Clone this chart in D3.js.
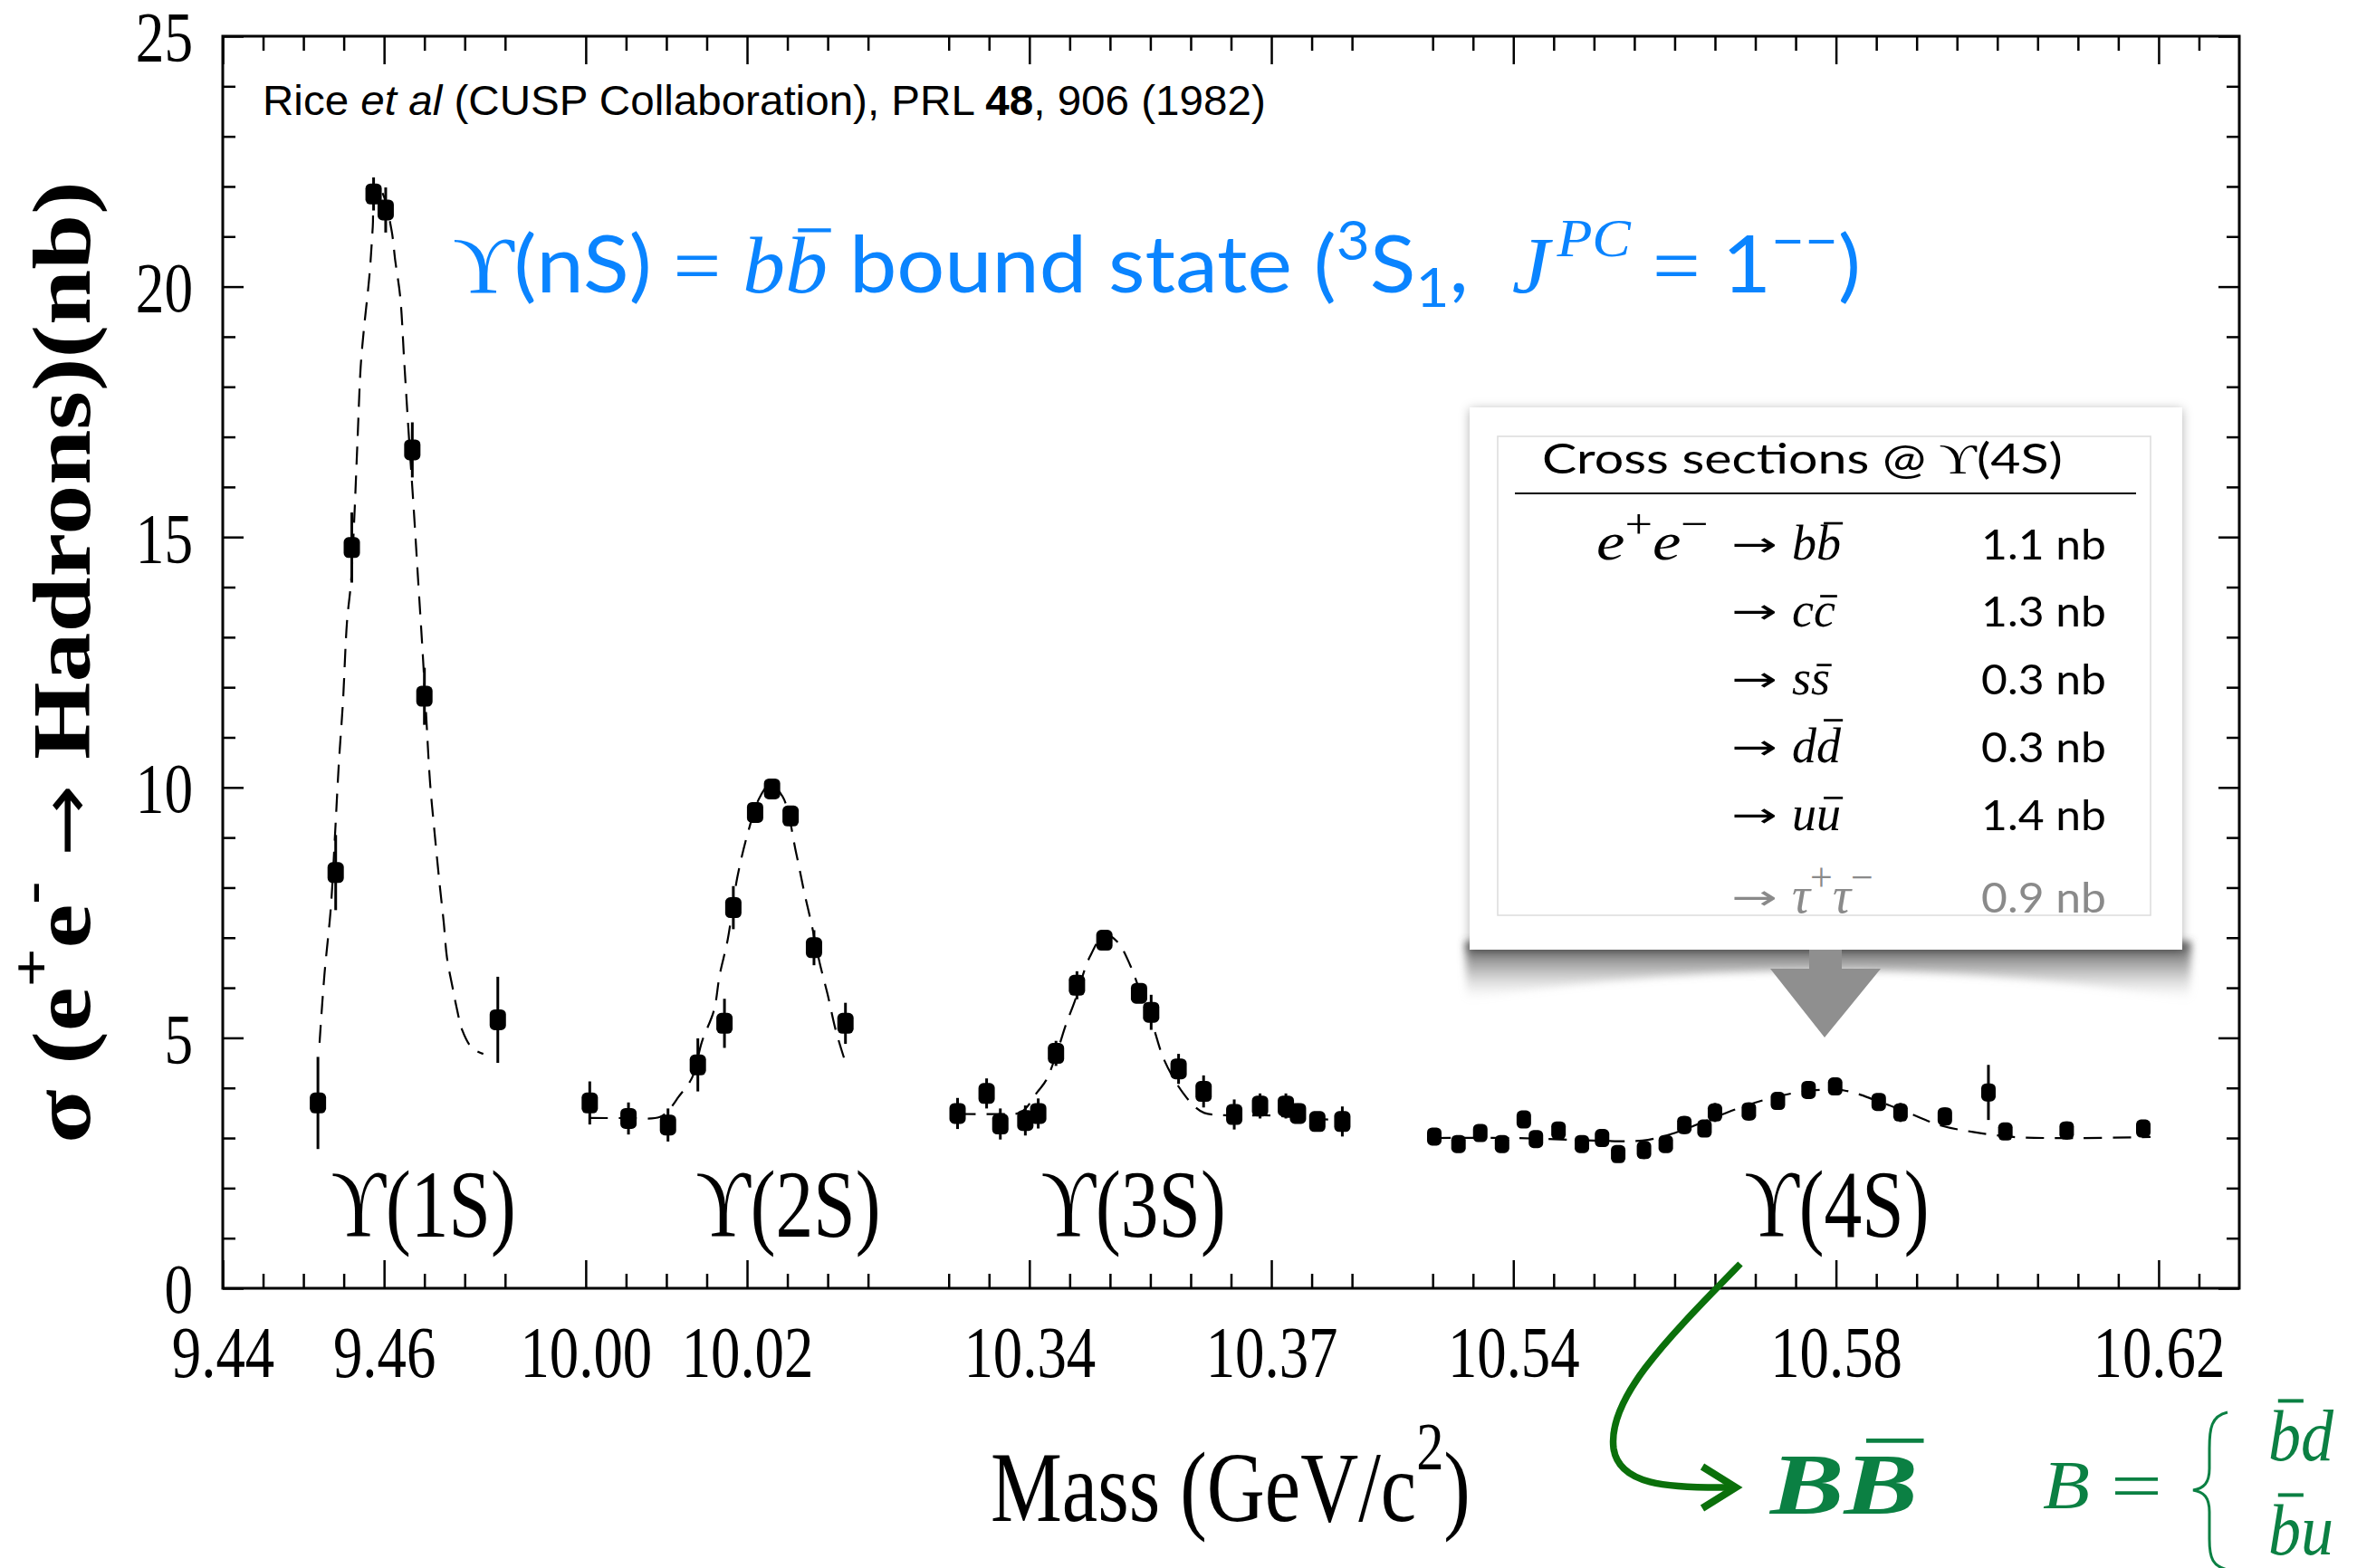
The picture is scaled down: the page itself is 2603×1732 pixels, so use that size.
<!DOCTYPE html>
<html>
<head>
<meta charset="utf-8">
<script src="https://cdn.jsdelivr.net/npm/d3@7"></script>
<style>
  body { margin: 0; background: #fff; }
  text { white-space: pre; }
</style>
</head>
<body>
<svg id="fig" width="2603" height="1732"></svg>
<script>
// ---- axis layout (broken mass axis, GeV) ----
const segments = [[9.44, 9.48], [9.995, 10.04], [10.325, 10.385], [10.525, 10.63]];
const majorTicks = [9.44, 9.46, 10.00, 10.02, 10.34, 10.37, 10.54, 10.58, 10.62];
const tickLabels = ["9.44", "9.46", "10.00", "10.02", "10.34", "10.37", "10.54", "10.58", "10.62"];
const yMajor = [0, 5, 10, 15, 20, 25];
const yMinor = d3.range(0, 26);

// ---- data : mass (GeV), sigma (nb), error (nb) ----
const mass1S  = [9.4518, 9.4540, 9.4560, 9.4587, 9.4602, 9.4635, 9.4650, 9.4741];
const sigma1S = [3.70, 8.30, 14.79, 21.85, 21.53, 16.74, 11.82, 5.36];
const err1S   = [0.92, 0.75, 0.70, 0.33, 0.45, 0.55, 0.57, 0.86];

const mass2S  = [10.0005, 10.0053, 10.0102, 10.0139, 10.0172, 10.0183, 10.0210, 10.0231, 10.0254, 10.0283, 10.0322];
const sigma2S = [3.70, 3.39, 3.26, 4.46, 5.29, 7.60, 9.50, 9.97, 9.43, 6.80, 5.29];
const err2S   = [0.43, 0.32, 0.33, 0.53, 0.49, 0.43, 0.20, 0.20, 0.20, 0.35, 0.41];

const mass3S  = [10.3311, 10.3347, 10.3364, 10.3395, 10.3411, 10.3433, 10.3459, 10.3493, 10.3536, 10.3551,
                 10.3585, 10.3616, 10.3654, 10.3686, 10.3718, 10.3733, 10.3757, 10.3788];
const sigma3S = [3.49, 3.89, 3.28, 3.35, 3.49, 4.69, 6.05, 6.95, 5.89, 5.51, 4.38, 3.93, 3.47, 3.64, 3.64, 3.49, 3.33, 3.33];
const err3S   = [0.31, 0.30, 0.31, 0.30, 0.30, 0.25, 0.28, 0.12, 0.12, 0.35, 0.30, 0.32, 0.30, 0.25, 0.25, 0.20, 0.12, 0.30];

const mass4S  = [10.5302, 10.5332, 10.5359, 10.5386, 10.5413, 10.5428, 10.5456, 10.5485, 10.5510, 10.5530,
                 10.5562, 10.5589, 10.5612, 10.5637, 10.5650, 10.5692, 10.5728, 10.5766, 10.5799, 10.5853,
                 10.5880, 10.5935, 10.5989, 10.6010, 10.6086, 10.6181];
const sigma4S = [3.03, 2.88, 3.10, 2.88, 3.37, 2.98, 3.15, 2.88, 3.00, 2.68, 2.76, 2.88, 3.26, 3.19, 3.51,
                 3.53, 3.74, 3.96, 4.03, 3.72, 3.51, 3.43, 3.91, 3.13, 3.15, 3.19];
const err4S   = [0.10, 0.10, 0.10, 0.10, 0.12, 0.10, 0.10, 0.10, 0.10, 0.15, 0.18, 0.12, 0.18, 0.15, 0.19,
                 0.18, 0.17, 0.10, 0.10, 0.12, 0.19, 0.18, 0.55, 0.15, 0.18, 0.10];

// fitted curves (dashed)
const fit1S = [[9.4520,4.9],[9.4526,6.25],[9.4534,7.6],[9.4539,9.0],[9.4544,10.5],[9.4549,11.7],[9.4554,13.3],
  [9.4559,14.1],[9.4563,15.35],[9.4567,16.9],[9.4571,18.4],[9.4575,19.15],[9.4582,20.25],[9.4586,21.2],
  [9.4589,22.0],[9.4597,21.9],[9.4609,21.15],[9.4614,20.5],[9.4620,19.8],[9.4625,18.5],[9.4630,17.2],
  [9.4637,15.5],[9.4642,14.2],[9.4648,12.65],[9.4652,11.5],[9.4657,10.1],[9.4662,9.2],[9.4669,8.05],
  [9.4674,7.3],[9.4678,6.6],[9.4685,6.0],[9.4690,5.6],[9.4697,5.15],[9.4709,4.8],[9.4723,4.68]];
const fit2S = [[10.0005,3.40],[10.0050,3.40],[10.0092,3.42],[10.0105,3.6],[10.0115,3.82],[10.0132,4.21],
  [10.0144,4.92],[10.0159,5.55],[10.0166,6.25],[10.0176,6.96],[10.0188,8.21],[10.0202,9.15],[10.0215,9.78],
  [10.0228,10.05],[10.0244,9.82],[10.0261,8.68],[10.0271,7.9],[10.0280,7.27],[10.0290,6.5],[10.0300,5.86],
  [10.0310,5.15],[10.0321,4.56]];
const fit3S = [[10.3311,3.48],[10.3360,3.48],[10.3390,3.52],[10.3410,3.92],[10.3421,4.16],[10.3435,4.75],
  [10.3445,5.25],[10.3456,5.72],[10.3475,6.62],[10.3494,7.07],[10.3510,6.9],[10.3525,6.45],[10.3540,5.8],
  [10.3553,5.25],[10.3566,4.6],[10.3581,4.13],[10.3591,3.89],[10.3604,3.64],[10.3617,3.5],[10.3650,3.45],
  [10.3700,3.45],[10.3740,3.4],[10.3788,3.35]];
const fit4S = [[10.5300,3.0],[10.5400,3.0],[10.5500,2.95],[10.5560,2.95],[10.5600,3.1],[10.5640,3.35],
  [10.5680,3.6],[10.5720,3.8],[10.5770,3.95],[10.5810,3.95],[10.5850,3.75],[10.5890,3.5],[10.5930,3.25],
  [10.5970,3.12],[10.6020,3.02],[10.6100,3.0],[10.6190,3.02]];

const resonanceLabels = ["ϒ(1S)", "ϒ(2S)", "ϒ(3S)", "ϒ(4S)"];
const labelMass = [9.4649, 10.0251, 10.3529, 10.5801];

// cross sections at the Upsilon(4S)
const channels = ["b", "c", "s", "d", "u", "τ"];
const crossSections = [1.1, 1.3, 0.3, 0.3, 1.4, 0.9];

// ---- fonts / colours ----
const serif = "'Liberation Serif','Times New Roman',Times,'DejaVu Serif',serif";
const sans = "'Liberation Sans',Arial,Helvetica,sans-serif";
const cm = "Lato,'Open Sans','DejaVu Sans',sans-serif";
const arrowFont = "'DejaVu Sans',sans-serif";
const blue = "#0a84ff";
const green = "#0b8043";

const svg = d3.select("#fig");
svg.append("rect").attr("width", 2603).attr("height", 1732).attr("fill", "#fff");

// ---- scales ----
const L = 246, R = 2473, T = 40, B = 1423;
const span = d3.sum(segments, s => s[1] - s[0]);
const dom = [], rng = [];
let acc = L;
segments.forEach(s => {
  dom.push(s[0], s[1]);
  rng.push(acc);
  acc += (s[1] - s[0]) / span * (R - L);
  rng.push(acc);
});
const x = d3.scaleLinear().domain(dom).range(rng);
const y = d3.scaleLinear().domain([0, 25]).range([B, T]);

// minor ticks every 5 MeV inside each segment
const minorX = [];
segments.forEach(s => {
  const a = Math.round(s[0] * 200), b = Math.round(s[1] * 200);
  for (let k = a + 1; k < b; k++) {
    const v = k / 200;
    if (!majorTicks.some(m => Math.abs(m - v) < 1e-6)) minorX.push(v);
  }
});

// ---- rich text helper (tspans, sup/sub, bars) ----
function rich(parent, parts, base) {
  const g = parent.append("g");
  const t = g.append("text")
    .attr("font-family", base.font).attr("font-size", base.size)
    .attr("fill", base.fill || "#000")
    .attr("font-weight", base.weight || null)
    .attr("font-style", base.italic ? "italic" : null);
  let rise = 0, idx = 0;
  const bars = [];
  parts.forEach(p => {
    const s = t.append("tspan").text(p.t);
    if (p.font) s.attr("font-family", p.font);
    if (p.size) s.attr("font-size", p.size);
    if (p.italic) s.attr("font-style", "italic");
    if (p.upright) s.attr("font-style", "normal");
    if (p.bold) s.attr("font-weight", "bold");
    if (p.normal) s.attr("font-weight", "normal");
    if (p.fill) s.attr("fill", p.fill);
    const r = p.rise || 0;
    if (r !== rise) { s.attr("dy", rise - r); rise = r; }
    if (p.bar != null) bars.push({ i: idx + p.bar, size: p.size || base.size, h: p.barH || 0.75, r: r, fill: p.fill || base.fill || "#000" });
    idx += p.t.length;
  });
  bars.forEach(b => {
    const e = t.node().getExtentOfChar(b.i);
    const yb = -b.r - b.size * b.h;
    g.append("line")
      .attr("x1", e.x + e.width * 0.3).attr("x2", e.x + e.width * 1.08)
      .attr("y1", yb).attr("y2", yb)
      .attr("stroke", b.fill).attr("stroke-width", Math.max(2, b.size * 0.05));
  });
  return { g, t };
}
function fit(obj, x0, y0, width, extra) {
  const w = obj.t.node().getComputedTextLength();
  obj.g.attr("transform", `translate(${x0},${y0}) ${extra || ""} scale(${width / w},1)`);
}

// ---- frame and ticks ----
function ticks(gen, tx, ty, values, size) {
  const g = svg.append("g").attr("transform", `translate(${tx},${ty})`)
    .call(gen.tickValues(values).tickSizeInner(-size).tickSizeOuter(0).tickFormat(""));
  g.select(".domain").remove();
  g.selectAll(".tick line").attr("stroke", "#000").attr("stroke-width", 2.5);
  return g;
}
ticks(d3.axisBottom(x), 0, B, minorX, 16);
const gx = ticks(d3.axisBottom(x), 0, B, majorTicks, 31);
ticks(d3.axisTop(x), 0, T, minorX, 16);
ticks(d3.axisTop(x), 0, T, majorTicks, 31);
ticks(d3.axisLeft(y), L, 0, yMinor.filter(v => v % 5), 14);
const gy = ticks(d3.axisLeft(y), L, 0, yMajor, 23);
ticks(d3.axisRight(y), R, 0, yMinor.filter(v => v % 5), 14);
ticks(d3.axisRight(y), R, 0, yMajor, 23);

gx.selectAll(".tick text")
  .text(d => tickLabels[majorTicks.indexOf(d)])
  .attr("font-family", serif).attr("font-size", 81).attr("fill", "#000")
  .attr("y", 0).attr("dy", null)
  .attr("transform", "translate(0,98) scale(0.8,1)");
gy.selectAll(".tick text")
  .text(d => d)
  .attr("font-family", serif).attr("font-size", 79).attr("fill", "#000")
  .attr("text-anchor", "end")
  .attr("x", 0).attr("dy", "0.34em")
  .attr("transform", "translate(-33,0) scale(0.8,1)");

svg.append("rect").attr("x", L).attr("y", T).attr("width", R - L).attr("height", B - T)
  .attr("fill", "none").attr("stroke", "#000").attr("stroke-width", 3);

// ---- data ----
const sets = [
  { m: mass1S, s: sigma1S, e: err1S, fit: fit1S },
  { m: mass2S, s: sigma2S, e: err2S, fit: fit2S },
  { m: mass3S, s: sigma3S, e: err3S, fit: fit3S },
  { m: mass4S, s: sigma4S, e: err4S, fit: fit4S }
];
const line = d3.line().x(d => x(d[0])).y(d => y(d[1])).curve(d3.curveCatmullRom.alpha(0.5));
const plot = svg.append("g");
sets.forEach((set, k) => {
  const pts = d3.zip(set.m, set.s, set.e);
  plot.append("path").datum(set.fit).attr("d", line)
    .attr("fill", "none").attr("stroke", "#000").attr("stroke-width", 2.2)
    .attr("stroke-dasharray", "20 12");
  const g = plot.append("g");
  g.selectAll("line").data(pts).join("line")
    .attr("x1", d => x(d[0])).attr("x2", d => x(d[0]))
    .attr("y1", d => y(d[1] - d[2])).attr("y2", d => y(d[1] + d[2]))
    .attr("stroke", "#000").attr("stroke-width", 3);
  const w = k === 3 ? 16 : 18, h = k === 3 ? 20 : 23;
  g.selectAll("rect").data(pts).join("rect")
    .attr("x", d => x(d[0]) - w / 2).attr("y", d => y(d[1]) - h / 2)
    .attr("width", w).attr("height", h).attr("rx", 5.5)
    .attr("fill", "#000");
});

// resonance labels
resonanceLabels.forEach((lab, i) => {
  const o = rich(svg, [{ t: lab }], { font: serif, size: 105 });
  fit(o, x(labelMass[i]) - 102, 1366, 204);
});

// ---- titles ----
const yt = rich(svg, [
  { t: "σ (e" }, { t: "+", size: 62, rise: 44 }, { t: "e" }, { t: "-", size: 62, rise: 44 },
  { t: " " }, { t: "→", font: arrowFont, size: 78, normal: true }, { t: " Hadrons)(nb)" }
], { font: serif, size: 90, weight: "bold" });
fit(yt, 99, 1263, 1063, "rotate(-90)");

const xt = rich(svg, [{ t: "Mass (GeV/c" }, { t: "2", size: 75, rise: 57 }, { t: ")" }], { font: serif, size: 110 });
fit(xt, 1094, 1680, 530);

const ref = rich(svg, [
  { t: "Rice " }, { t: "et al", italic: true }, { t: " (CUSP Collaboration), PRL " },
  { t: "48", bold: true }, { t: ", 906 (1982)" }
], { font: sans, size: 46 });
fit(ref, 290, 127, 1108);

const title = rich(svg, [
  { t: "ϒ", font: serif }, { t: "(nS) " }, { t: "=", font: serif }, { t: " " },
  { t: "b", font: serif, italic: true }, { t: "b", font: serif, italic: true, bar: 0, barH: 0.78 },
  { t: " bound state (" },
  { t: "3", size: 60, rise: 36 }, { t: "S" }, { t: "1", size: 60, rise: -16 }, { t: ",  " },
  { t: "J", font: serif, italic: true }, { t: " ", size: 30 }, { t: "PC", font: serif, italic: true, size: 60, rise: 40 },
  { t: " " }, { t: "=", font: serif }, { t: " 1" }, { t: "−−", size: 60, rise: 36 }, { t: ")" }
], { font: cm, size: 88, fill: blue });
fit(title, 500, 323, 1555);

// ---- cross-section box ----
const defs = svg.append("defs");
defs.append("filter").attr("id", "boxShadow")
  .attr("x", "-10%").attr("y", "-10%").attr("width", "120%").attr("height", "130%")
  .append("feDropShadow").attr("dx", 0).attr("dy", 2).attr("stdDeviation", 6)
  .attr("flood-color", "#000").attr("flood-opacity", 0.3);
defs.append("filter").attr("id", "curl")
  .attr("x", "-10%").attr("y", "-60%").attr("width", "120%").attr("height", "220%")
  .append("feGaussianBlur").attr("stdDeviation", 4);
const grad = defs.append("linearGradient").attr("id", "curlGrad")
  .attr("x1", 0).attr("y1", 0).attr("x2", 0).attr("y2", 1);
grad.append("stop").attr("offset", "0%").attr("stop-color", "#4a4a4a").attr("stop-opacity", 0.95);
grad.append("stop").attr("offset", "45%").attr("stop-color", "#808080").attr("stop-opacity", 0.6);
grad.append("stop").attr("offset", "100%").attr("stop-color", "#c0c0c0").attr("stop-opacity", 0);
defs.append("clipPath").attr("id", "tableClip")
  .append("rect").attr("x", 1654).attr("y", 482).attr("width", 721).attr("height", 529);

const box = svg.append("g");
box.append("path").attr("d", "M1618,1040 L2420,1040 L2418,1104 Q2019,1040 1620,1104 Z")
  .attr("fill", "url(#curlGrad)").attr("filter", "url(#curl)");
box.append("rect").attr("x", 1623).attr("y", 450).attr("width", 787).attr("height", 599)
  .attr("fill", "#fff").attr("filter", "url(#boxShadow)");
box.append("rect").attr("x", 1654).attr("y", 482).attr("width", 721).attr("height", 529)
  .attr("fill", "none").attr("stroke", "#dcdcdc").attr("stroke-width", 1.5);

const head = rich(box, [{ t: "Cross sections @ " }, { t: "ϒ", font: serif }, { t: "(4S)" }], { font: cm, size: 47 });
fit(head, 1703, 523, 575);
box.append("line").attr("x1", 1673).attr("x2", 2359).attr("y1", 545).attr("y2", 545)
  .attr("stroke", "#000").attr("stroke-width", 2);

const rowBase = [618, 692, 767, 842, 917, 1008];
const barH = { b: 0.74, c: 0.62, s: 0.6, d: 0.86, u: 0.66 };
const table = box.append("g").attr("clip-path", "url(#tableClip)");
let numScale = null;
channels.forEach((q, i) => {
  const col = i === 5 ? "#8a8a8a" : "#000";
  const yb = rowBase[i];
  if (i === 0) {
    const ee = rich(table, [
      { t: "e" }, { t: "+", size: 46, rise: 24, upright: true }, { t: "e" }, { t: "−", size: 46, rise: 24, upright: true }
    ], { font: serif, size: 60, italic: true });
    fit(ee, 1763, yb, 124);
  }
  const ar = rich(table, [{ t: "→" }], { font: arrowFont, size: 38, fill: col });
  fit(ar, 1912, yb - 4, 51);
  const pair = q === "τ"
    ? rich(table, [{ t: "τ" }, { t: "+", size: 44, rise: 24, upright: true }, { t: "τ" }, { t: "−", size: 44, rise: 24, upright: true }],
        { font: serif, size: 56, italic: true, fill: col })
    : rich(table, [{ t: q }, { t: q, bar: 0, barH: barH[q] }], { font: serif, size: 54, italic: true, fill: col });
  pair.g.attr("transform", `translate(1979,${yb})`);
  const num = rich(table, [{ t: crossSections[i].toFixed(1) + " nb" }], { font: cm, size: 47, fill: col });
  if (numScale === null) numScale = 138 / num.t.node().getComputedTextLength();
  num.g.attr("transform", `translate(2188,${yb}) scale(${numScale},1)`);
});

// grey arrow under the box
box.append("polygon")
  .attr("points", "1998,1049 2034,1049 2034,1070 2077,1070 2015,1146 1955,1070 1998,1070")
  .attr("fill", "#8f8f8f");

// ---- green annotation ----
svg.append("path")
  .attr("d", "M1922,1396 C1840,1480 1775,1545 1782,1600 C1788,1640 1840,1644 1912,1643")
  .attr("fill", "none").attr("stroke", "#0b700b").attr("stroke-width", 7.5);
svg.append("polyline").attr("points", "1880,1620 1917,1643 1880,1666")
  .attr("fill", "none").attr("stroke", "#0b700b").attr("stroke-width", 8);

const bb = rich(svg, [{ t: "B" }, { t: "B", bar: 0, barH: 0.84 }],
  { font: serif, size: 96, weight: "bold", italic: true, fill: green });
fit(bb, 1955, 1672, 163);

const bEq = rich(svg, [{ t: "B" }], { font: serif, size: 76, italic: true, fill: green });
fit(bEq, 2256, 1666, 52);
const eq = rich(svg, [{ t: "=" }], { font: serif, size: 76, fill: green });
fit(eq, 2331, 1667, 57);
svg.append("path")
  .attr("d", "M2460,1560 C2442,1564 2440,1578 2440,1600 L2440,1622 C2440,1638 2434,1644 2422,1646 C2434,1648 2440,1654 2440,1670 L2440,1700 C2440,1722 2444,1730 2460,1734")
  .attr("fill", "none").attr("stroke", green).attr("stroke-width", 3);
const bd = rich(svg, [{ t: "b", bar: 0, barH: 0.82 }, { t: "d" }], { font: serif, size: 80, italic: true, fill: green });
fit(bd, 2505, 1613, 72);
const bu = rich(svg, [{ t: "b", bar: 0, barH: 0.82 }, { t: "u" }], { font: serif, size: 80, italic: true, fill: green });
fit(bu, 2505, 1717, 72);
</script>
</body>
</html>
